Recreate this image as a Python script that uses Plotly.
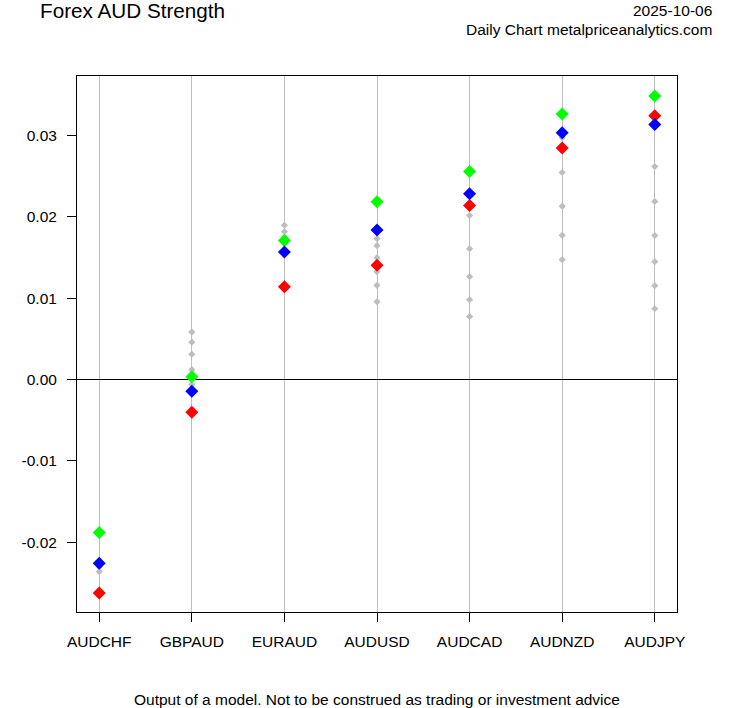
import plotly.graph_objects as go

categories = ["AUDCHF", "GBPAUD", "EURAUD", "AUDUSD", "AUDCAD", "AUDNZD", "AUDJPY"]

green_vals = [-0.0188, 0.00033, 0.01708, 0.02184, 0.02558, 0.03264, 0.03485]
blue_vals = [-0.02258, -0.00144, 0.01568, 0.01839, 0.02283, 0.03034, 0.03136]
red_vals = [-0.02623, -0.00403, 0.01142, 0.01404, 0.02139, 0.02845, 0.03243]

gray_vals = [
    [-0.0236, -0.0230],
    [0.00583, 0.0046, 0.00312, 0.00123, -0.0006],
    [0.01897, 0.01818, 0.0175],
    [0.01732, 0.01646, 0.01498, 0.01326, 0.01158, 0.00957],
    [0.02016, 0.01609, 0.01265, 0.00981, 0.00776],
    [0.02972, 0.02545, 0.02131, 0.01773, 0.01474],
    [0.02619, 0.02188, 0.0177, 0.01449, 0.01154, 0.00871],
]

y_tick_vals = [-0.02, -0.01, 0.0, 0.01, 0.02, 0.03]
y_tick_text = ["-0.02", "-0.01", "0.00", "0.01", "0.02", "0.03"]

title_text = "Forex AUD Strength"
date_text = "2025-10-06"
source_text = "Daily Chart metalpriceanalytics.com"
caption_text = "Output of a model. Not to be construed as trading or investment advice"

gx, gy = [], []
for cat, vals in zip(categories, gray_vals):
    for v in vals:
        gx.append(cat)
        gy.append(v)

FONT = "Liberation Sans, Arial, sans-serif"

fig = go.Figure()
fig.add_trace(go.Scatter(x=gx, y=gy, mode="markers",
                         marker=dict(symbol="diamond", size=5.5, color="#BEBEBE"),
                         showlegend=False, hoverinfo="skip"))
fig.add_trace(go.Scatter(x=categories, y=green_vals, mode="markers",
                         marker=dict(symbol="diamond", size=10, color="#00FF00"),
                         showlegend=False))
fig.add_trace(go.Scatter(x=categories, y=red_vals, mode="markers",
                         marker=dict(symbol="diamond", size=10, color="#FF0000"),
                         showlegend=False))
fig.add_trace(go.Scatter(x=categories, y=blue_vals, mode="markers",
                         marker=dict(symbol="diamond", size=10, color="#0000FF"),
                         showlegend=False))

H_PLOT = 536.0

def py(px_from_top):
    return 1 + (76 - px_from_top) / H_PLOT

fig.update_layout(
    width=753, height=708,
    margin=dict(l=77, r=76, t=76, b=96),
    paper_bgcolor="white", plot_bgcolor="white",
    font=dict(family=FONT, size=15.5, color="black"),
    xaxis=dict(type="category", categoryorder="array", categoryarray=categories,
               range=[-0.24, 6.24], showgrid=True, gridcolor="#BEBEBE", gridwidth=1,
               ticks="outside", ticklen=9, tickwidth=1, tickcolor="black",
               showline=True, linecolor="black", linewidth=1, mirror=True,
               zeroline=False, ticklabelstandoff=6, tickfont=dict(size=15.5)),
    yaxis=dict(range=[-0.02857, 0.03731], tickvals=y_tick_vals, ticktext=y_tick_text,
               showgrid=False, zeroline=True, zerolinecolor="black", zerolinewidth=1,
               ticks="outside", ticklen=9, tickwidth=1, tickcolor="black",
               showline=True, linecolor="black", linewidth=1, mirror=True,
               ticklabelstandoff=7, tickfont=dict(size=15.5)),
    annotations=[
        dict(text=title_text, xref="paper", yref="paper", x=(38 - 77) / 600, y=py(10),
             xanchor="left", yanchor="middle", showarrow=False, font=dict(size=20.7)),
        dict(text=date_text, xref="paper", yref="paper", x=(714 - 77) / 600, y=py(10.5),
             xanchor="right", yanchor="middle", showarrow=False, font=dict(size=15.5)),
        dict(text=source_text, xref="paper", yref="paper", x=(714 - 77) / 600, y=py(29.5),
             xanchor="right", yanchor="middle", showarrow=False, font=dict(size=15.5)),
        dict(text=caption_text, xref="paper", yref="paper", x=(376.5 - 77) / 600, y=py(699),
             xanchor="center", yanchor="middle", showarrow=False, font=dict(size=15.5)),
    ],
)

fig.write_html("out.html", config={"displayModeBar": False},
               post_script="document.body.style.margin='0';document.body.style.overflow='hidden';")
